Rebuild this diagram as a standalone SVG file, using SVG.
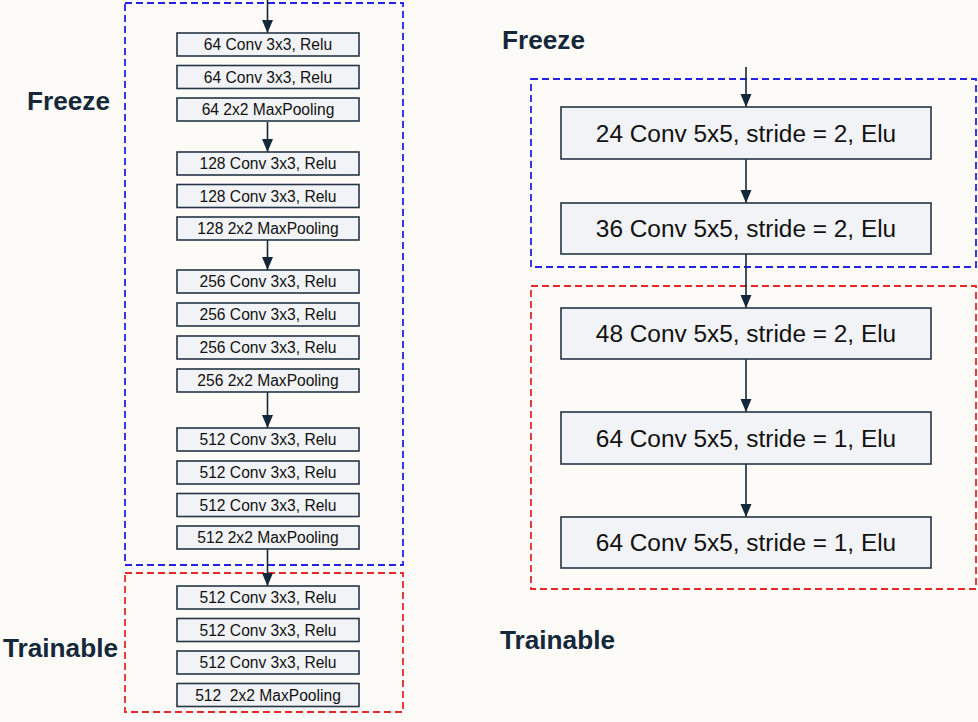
<svg xmlns="http://www.w3.org/2000/svg" width="978" height="722" viewBox="0 0 978 722">
<defs>
<marker id="ah" markerUnits="userSpaceOnUse" markerWidth="12" markerHeight="15" refX="13" refY="6" orient="auto">
<path d="M0,0.5 L13,6 L0,11.5 Z" fill="#15283a"/>
</marker>
<style>
.bg{fill:#fcfbf7}
.n rect{fill:#f2f3f6;stroke:#253545;stroke-width:1.6}
.s{font-family:"Liberation Sans",Arial,sans-serif;font-size:15.6px;fill:#111;text-anchor:middle}
.b{font-family:"Liberation Sans",Arial,sans-serif;font-size:24.4px;fill:#111;text-anchor:middle}
.lbl{font-family:"Liberation Sans",Arial,sans-serif;font-size:26.2px;font-weight:bold;fill:#15283a}
.fz{fill:none;stroke:#2323e6;stroke-width:1.8;stroke-dasharray:7,4}
.tr{fill:none;stroke:#e82828;stroke-width:1.8;stroke-dasharray:7,4}
.c line{stroke:#15283a;stroke-width:1.6;marker-end:url(#ah)}
</style>
</defs>
<rect class="bg" x="0" y="0" width="978" height="722"/>
<g id="groups">
<rect class="fz" x="125" y="3" width="278" height="562"/>
<rect class="tr" x="125" y="573" width="278" height="139"/>
<rect class="fz" x="531" y="79" width="445" height="188"/>
<rect class="tr" x="531" y="286" width="445" height="303"/>
</g>
<g id="labels">
<text class="lbl" x="27" y="110">Freeze</text>
<text class="lbl" x="3" y="657">Trainable</text>
<text class="lbl" x="502" y="49">Freeze</text>
<text class="lbl" x="500" y="649">Trainable</text>
</g>
<g id="connectors" class="c">
<line x1="267.5" y1="0" x2="267.5" y2="33"/>
<line x1="267.5" y1="122" x2="267.5" y2="152"/>
<line x1="267.5" y1="240" x2="267.5" y2="270"/>
<line x1="267.5" y1="392" x2="267.5" y2="428"/>
<line x1="267.5" y1="549" x2="267.5" y2="586"/>
<line x1="746" y1="67" x2="746" y2="107"/>
<line x1="746" y1="159" x2="746" y2="203"/>
<line x1="746" y1="254" x2="746" y2="308"/>
<line x1="746" y1="359" x2="746" y2="412"/>
<line x1="746" y1="464" x2="746" y2="517"/>
</g>
<g id="n1" class="n"><rect x="177" y="33" width="182" height="23"/><text class="s" x="268" y="50">64 Conv 3x3, Relu</text></g>
<g id="n2" class="n"><rect x="177" y="65.5" width="182" height="23"/><text class="s" x="268" y="82.5">64 Conv 3x3, Relu</text></g>
<g id="n3" class="n"><rect x="177" y="98" width="182" height="23"/><text class="s" x="268" y="115">64 2x2 MaxPooling</text></g>
<g id="n4" class="n"><rect x="177" y="152" width="182" height="23"/><text class="s" x="268" y="169">128 Conv 3x3, Relu</text></g>
<g id="n5" class="n"><rect x="177" y="184.5" width="182" height="23"/><text class="s" x="268" y="201.5">128 Conv 3x3, Relu</text></g>
<g id="n6" class="n"><rect x="177" y="217" width="182" height="23"/><text class="s" x="268" y="234">128 2x2 MaxPooling</text></g>
<g id="n7" class="n"><rect x="177" y="270" width="182" height="23"/><text class="s" x="268" y="287">256 Conv 3x3, Relu</text></g>
<g id="n8" class="n"><rect x="177" y="303" width="182" height="23"/><text class="s" x="268" y="320">256 Conv 3x3, Relu</text></g>
<g id="n9" class="n"><rect x="177" y="336" width="182" height="23"/><text class="s" x="268" y="353">256 Conv 3x3, Relu</text></g>
<g id="n10" class="n"><rect x="177" y="369" width="182" height="23"/><text class="s" x="268" y="386">256 2x2 MaxPooling</text></g>
<g id="n11" class="n"><rect x="177" y="428" width="182" height="23"/><text class="s" x="268" y="445">512 Conv 3x3, Relu</text></g>
<g id="n12" class="n"><rect x="177" y="461" width="182" height="23"/><text class="s" x="268" y="478">512 Conv 3x3, Relu</text></g>
<g id="n13" class="n"><rect x="177" y="493.5" width="182" height="23"/><text class="s" x="268" y="510.5">512 Conv 3x3, Relu</text></g>
<g id="n14" class="n"><rect x="177" y="526" width="182" height="23"/><text class="s" x="268" y="543">512 2x2 MaxPooling</text></g>
<g id="n15" class="n"><rect x="177" y="586" width="182" height="23"/><text class="s" x="268" y="603">512 Conv 3x3, Relu</text></g>
<g id="n16" class="n"><rect x="177" y="618.5" width="182" height="23"/><text class="s" x="268" y="635.5">512 Conv 3x3, Relu</text></g>
<g id="n17" class="n"><rect x="177" y="651" width="182" height="23"/><text class="s" x="268" y="668">512 Conv 3x3, Relu</text></g>
<g id="n18" class="n"><rect x="177" y="683.5" width="182" height="23"/><text class="s" x="268" y="700.5" xml:space="preserve">512  2x2 MaxPooling</text></g>
<g id="r1" class="n"><rect x="561" y="107" width="370" height="52"/><text class="b" x="746" y="141.5">24 Conv 5x5, stride = 2, Elu</text></g>
<g id="r2" class="n"><rect x="561" y="203" width="370" height="51"/><text class="b" x="746" y="237">36 Conv 5x5, stride = 2, Elu</text></g>
<g id="r3" class="n"><rect x="561" y="308" width="370" height="51"/><text class="b" x="746" y="342">48 Conv 5x5, stride = 2, Elu</text></g>
<g id="r4" class="n"><rect x="561" y="412" width="370" height="52"/><text class="b" x="746" y="446.5">64 Conv 5x5, stride = 1, Elu</text></g>
<g id="r5" class="n"><rect x="561" y="517" width="370" height="51"/><text class="b" x="746" y="551">64 Conv 5x5, stride = 1, Elu</text></g>
</svg>
